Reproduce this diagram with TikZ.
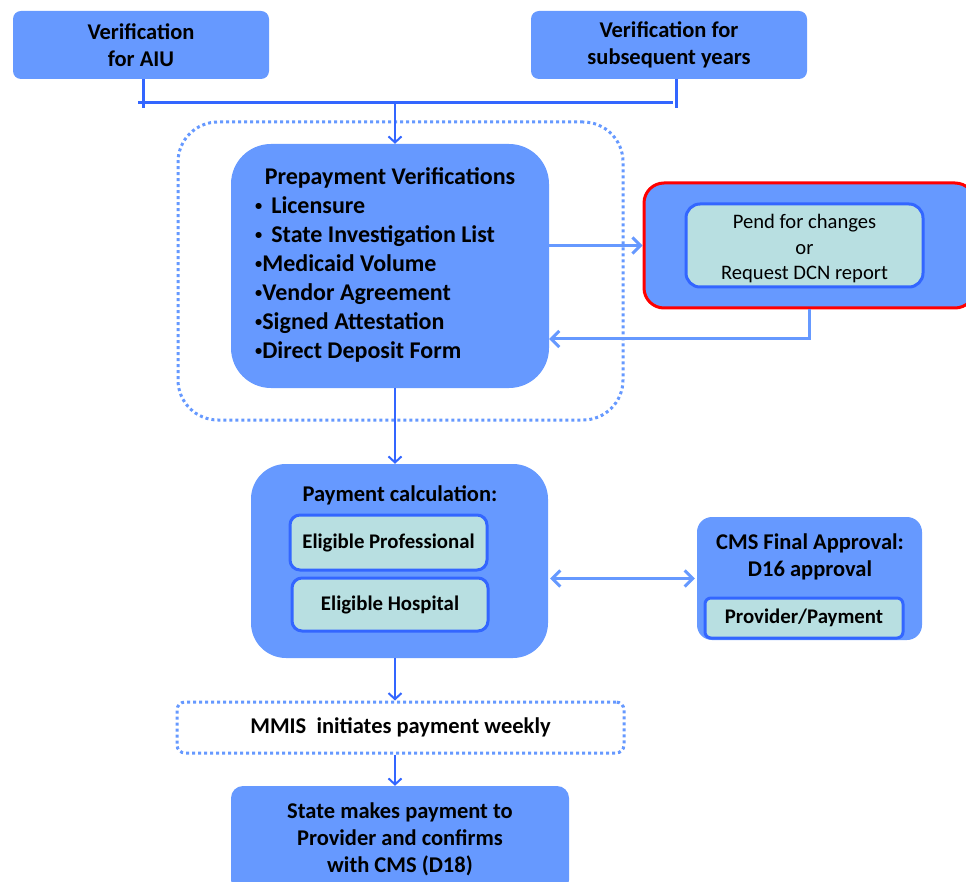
\documentclass[tikz,border=0pt]{standalone}
\usepackage{fontspec}
\setmainfont{Carlito}
\usetikzlibrary{arrows.meta, positioning}

\definecolor{boxblue}{RGB}{102,153,255}
\definecolor{lineblue}{RGB}{51,102,255}
\definecolor{paleteal}{RGB}{184,223,225}
\newcommand{\smallbullet}{\raisebox{0.12em}{\scalebox{0.6}{•}}}

\begin{document}
\begin{tikzpicture}[x=1pt,y=-1pt,font=\fontsize{22.5}{27}\selectfont\bfseries,
  box/.style={fill=boxblue, rounded corners=8pt, align=center, inner sep=0pt},
  inbox/.style={fill=paleteal, draw=lineblue, line width=3pt, rounded corners=10pt, align=center, inner sep=0pt,
    font=\fontsize{20.8}{25}\selectfont\bfseries},
  dotbox/.style={draw=boxblue, line width=3pt, dash pattern=on 3pt off 3pt, align=center},
  bar/.style={draw=lineblue, line width=3pt},
  mainarrow/.style={color=lineblue, line width=2pt, >={Straight Barb[length=6pt,width=13pt]}, ->},
  sidearrow/.style={draw=boxblue, line width=3pt, >={Straight Barb[length=8pt,width=16pt]}, ->}]
      \useasboundingbox (0,0) rectangle (966,882);
      \clip (0,0) rectangle (966,882);
      % top boxes
      \node[box, minimum width=256pt, minimum height=68pt] (aiu) at (141,45) {Verification\\for AIU};
      \node[box, minimum width=276pt, minimum height=68pt] (subs) at (669,45) {Verification for\\subsequent years};
      % prepayment block
      \node[dotbox, rounded corners=40pt, minimum width=445pt, minimum height=298pt] (verifgroup) at (400.5,271) {};
      \node[box, rounded corners=40pt, minimum width=318pt, minimum height=244pt] (prep) at (390,266) {};
      \node[font=\fontsize{24}{29}\selectfont\bfseries] (preptitle) at (390,178) {Prepayment Verifications};
      \node[anchor=west, align=left, inner sep=0pt, font=\fontsize{24}{29}\selectfont\bfseries] (preplist) at (255,279)
        {\smallbullet\hspace{9pt}Licensure\\\smallbullet\hspace{9pt}State Investigation List\\\smallbullet Medicaid Volume\\\smallbullet Vendor Agreement\\\smallbullet Signed Attestation\\\smallbullet Direct Deposit Form};
      \node[box, draw=red, line width=3pt, rounded corners=20pt, minimum width=331pt, minimum height=125pt] (pend) at (809.5,245.5) {};
      \node[inbox, rounded corners=14pt, minimum width=237pt, minimum height=83pt, font=\fontsize{20.6}{25.5}\selectfont] (pendtext) at (804.5,245.5)
        {\rule{0pt}{21pt}Pend for changes\\or\\Request DCN report};
      % payment block
      \node[box, rounded corners=35pt, minimum width=297pt, minimum height=194pt] (pay) at (399.5,561) {};
      \node (paytitle) at (400,495) {Payment calculation:};
      \node[inbox, minimum width=197pt, minimum height=55pt] (ep) at (388.5,542.5) {Eligible Professional};
      \node[inbox, minimum width=196pt, minimum height=53pt] (eh) at (390,604.5) {Eligible Hospital};
      \node[box, rounded corners=15pt, minimum width=225pt, minimum height=123pt] (cms) at (809.5,578.5) {};
      \node[align=center] (cmstitle) at (810,557) {CMS Final Approval:\\D16 approval};
      \node[inbox, rounded corners=6pt, minimum width=198pt, minimum height=40pt] (provpay) at (804,618) {Provider/Payment};
      % bottom
      \node[dotbox, rounded corners=8pt, minimum width=447pt, minimum height=51pt] (mmis) at (400.5,727.5) {MMIS\ \ initiates payment weekly};
      \node[box, rounded corners=12pt, minimum width=338pt, minimum height=106pt] (state) at (400,839)
        {State makes payment to\\Provider and confirms\\with CMS (D18)};
      % connectors
      \coordinate (jl) at (143,103);
      \coordinate (jr) at (676,103);
      \coordinate (spine) at (395,103);
      \draw[bar] (aiu.south -| jl) -- ++(0,29);
      \draw[bar] (subs.south -| jr) -- ++(0,29);
      \draw[bar] ([xshift=-5pt]jl) -- ([xshift=-3pt]jr);
      \path[mainarrow]
      (spine) edge (spine |- prep.north)
      (spine |- prep.south) edge (spine |- pay.north)
      (spine |- pay.south) edge (spine |- mmis.north)
      (spine |- mmis.south) edge (spine |- state.north);
      \draw[sidearrow] (prep.east |- pend.west) -- (pend.west);
      \draw[sidearrow] (pend.south) |- ([yshift=-73pt]prep.east);
      \draw[sidearrow, <->] ([xshift=2pt]pay.east |- cms.west) -- ([xshift=-2pt]cms.west);
\end{tikzpicture}
\end{document}
